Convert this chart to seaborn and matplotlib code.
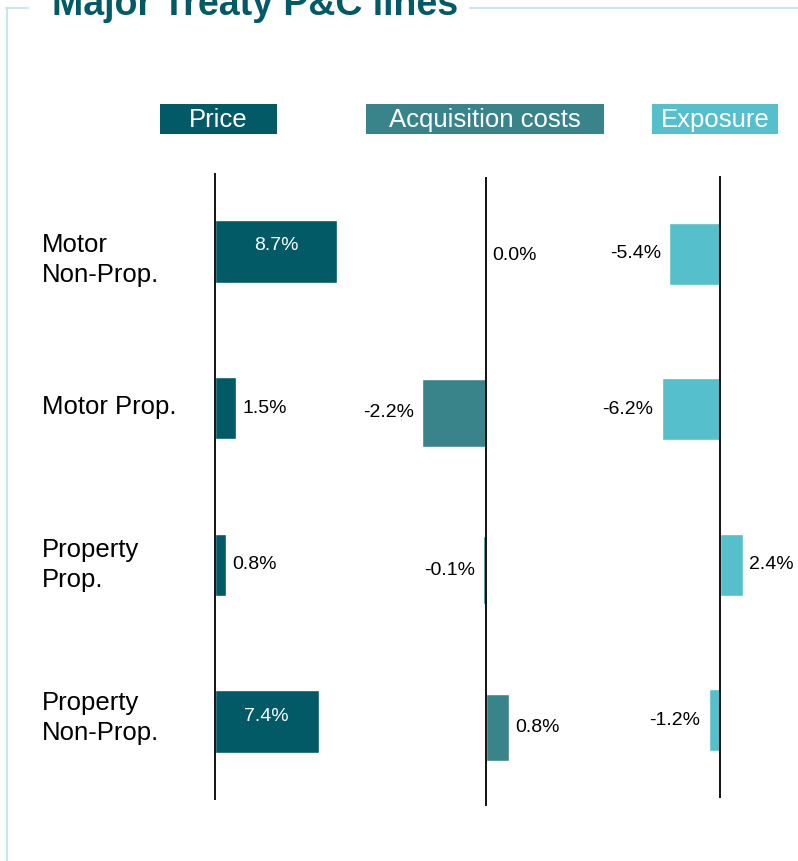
import matplotlib
matplotlib.use("Agg")
import matplotlib.pyplot as plt
import seaborn as sns
from matplotlib.patches import Rectangle
from matplotlib.lines import Line2D

# Data
categories = ["Motor\nNon-Prop.", "Motor Prop.", "Property\nProp.", "Property\nNon-Prop."]
price = [8.7, 1.5, 0.8, 7.4]
acquisition = [0.0, -2.2, -0.1, 0.8]
exposure = [-5.4, -6.2, 2.4, -1.2]
panel_names = ["Price", "Acquisition costs", "Exposure"]
panel_colors = ["#015a66", "#39848a", "#55bfcc"]

W, H = 798, 861
sns.set_theme(style="white")
plt.rcParams["font.family"] = ["Liberation Sans", "DejaVu Sans"]

fig = plt.figure(figsize=(W / 100, H / 100), dpi=100)


def fx(x):
    return x / W


def fy(y):
    return 1 - y / H


# frame and title
frame_col = "#c6e8ec"
fig.add_artist(Line2D([fx(7), fx(7)], [fy(8), fy(861)], color=frame_col, lw=1.5, transform=fig.transFigure))
fig.add_artist(Line2D([fx(6), fx(28)], [fy(8), fy(8)], color=frame_col, lw=1.5, transform=fig.transFigure))
fig.add_artist(Line2D([fx(470), fx(798)], [fy(8), fy(8)], color=frame_col, lw=1.5, transform=fig.transFigure))
fig.text(fx(52), fy(15), "Major Treaty P&C lines", fontsize=27, fontweight="bold",
         color="#015a66", ha="left", va="baseline")

# panel layout in pixels: zero line x, px per %, axes left/right, top/bottom, header box
panels = [
    dict(values=price, zero=215, scale=14.0, x0=150, x1=370, top=173, bottom=800, box=(160, 277), bw=0.4),
    dict(values=acquisition, zero=486, scale=29.0, x0=380, x1=600, top=177, bottom=806, box=(366, 604), bw=0.43),
    dict(values=exposure, zero=720, scale=9.4, x0=610, x1=798, top=176, bottom=798, box=(652, 778), bw=0.4),
]

for name, color, p in zip(panel_names, panel_colors, panels):
    ax = fig.add_axes([fx(p["x0"]), fy(p["bottom"]), fx(p["x1"]) - fx(p["x0"]),
                       (p["bottom"] - p["top"]) / H])
    sns.barplot(x=p["values"], y=categories, orient="h", ax=ax, color=color,
                width=p["bw"], saturation=1)
    ax.set_xlim((p["x0"] - p["zero"]) / p["scale"], (p["x1"] - p["zero"]) / p["scale"])
    ax.set_ylim(3.5, -0.5)
    ax.axvline(0, color="black", lw=1.3)
    ax.set_axis_off()
    ax.patch.set_alpha(0)

    for i, v in enumerate(p["values"]):
        label = f"{v:.1f}%"
        if abs(v) >= 7:
            ax.annotate(label, (v / 2, i), xytext=(0, 4), textcoords="offset points",
                        ha="center", va="center", color="white", fontsize=14)
        elif v >= 0:
            ax.annotate(label, (v, i), xytext=(4.5, 0), textcoords="offset points",
                        ha="left", va="center", color="black", fontsize=14,
                        annotation_clip=False)
        else:
            ax.annotate(label, (v, i), xytext=(-6, 0), textcoords="offset points",
                        ha="right", va="center", color="black", fontsize=14)

    # header box
    bx0, bx1 = p["box"]
    fig.add_artist(Rectangle((fx(bx0), fy(134)), fx(bx1) - fx(bx0), 30 / H,
                             facecolor=color, edgecolor="none", transform=fig.transFigure))
    fig.text(fx((bx0 + bx1) / 2), fy(120), name, color="white", fontsize=18.5,
             ha="center", va="center")

# category labels
row_centers = [260, 407, 565, 718]
for cat, yc in zip(categories, row_centers):
    fig.text(fx(42), fy(yc), cat, fontsize=18.5, ha="left", va="center",
             color="black", linespacing=1.3)

fig.savefig("out.png", dpi=100)
